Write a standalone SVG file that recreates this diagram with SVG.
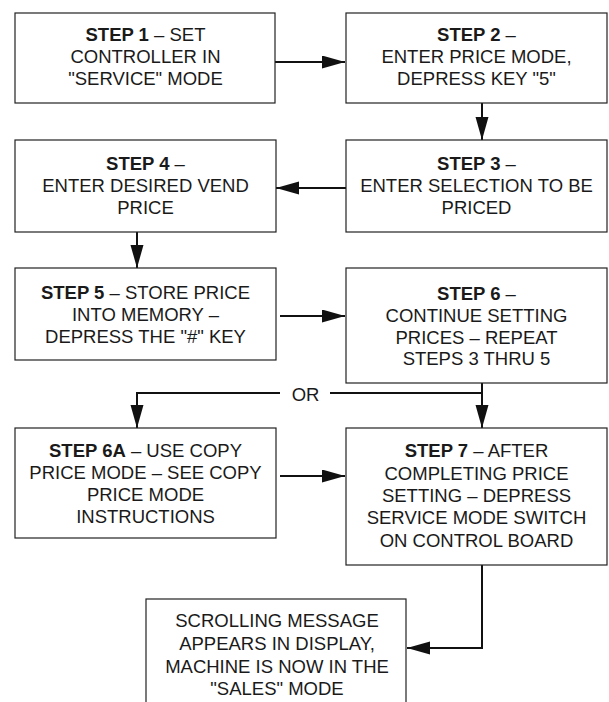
<svg xmlns="http://www.w3.org/2000/svg" width="609" height="702" viewBox="0 0 609 702">
<defs>
<marker id="ah" markerUnits="userSpaceOnUse" markerWidth="25" markerHeight="15" refX="23" refY="6.5" orient="auto">
<path d="M0,0 L23,6.5 L0,13 Z" fill="#111"/>
</marker>
<style>
.box{fill:#fff;stroke:#222;stroke-width:1.2}
.t{font-family:"Liberation Sans",Arial,sans-serif;font-size:18.5px;fill:#1a1a1a;text-anchor:middle}
.b{font-weight:bold}
.c{fill:none;stroke:#111;stroke-width:2;marker-end:url(#ah)}
.cl{fill:none;stroke:#111;stroke-width:2}
</style>
</defs>
<rect width="609" height="702" fill="#fff"/>
<g id="connectors">
<path class="c" d="M275,62 H345"/>
<path class="c" d="M482,103 V140"/>
<path class="c" d="M346,188 H276"/>
<path class="c" d="M137,232 V268"/>
<path class="c" d="M280,316 H345"/>
<path class="c" d="M482,383 V428"/>
<path class="c" d="M280,393 H137 V428"/>
<path class="cl" d="M330,393 H482"/>
<path class="c" d="M280,476 H345"/>
<path class="c" d="M482,565 V648 H407"/>
<text class="t" x="305.5" y="400.5">OR</text>
</g>
<g id="step1">
<rect class="box" x="15" y="13" width="260" height="90"/>
<text class="t" x="145.5" y="41"><tspan class="b">STEP 1</tspan> – SET</text>
<text class="t" x="145.5" y="63">CONTROLLER IN</text>
<text class="t" x="145.5" y="85">"SERVICE" MODE</text>
</g>
<g id="step2">
<rect class="box" x="346" y="13" width="261" height="90"/>
<text class="t" x="476.5" y="41"><tspan class="b">STEP 2</tspan> –</text>
<text class="t" x="476.5" y="63">ENTER PRICE MODE,</text>
<text class="t" x="476.5" y="85">DEPRESS KEY "5"</text>
</g>
<g id="step3">
<rect class="box" x="346" y="140" width="261" height="92"/>
<text class="t" x="476.5" y="170"><tspan class="b">STEP 3</tspan> –</text>
<text class="t" x="476.5" y="192">ENTER SELECTION TO BE</text>
<text class="t" x="476.5" y="214">PRICED</text>
</g>
<g id="step4">
<rect class="box" x="15" y="140" width="261" height="92"/>
<text class="t" x="145.5" y="170"><tspan class="b">STEP 4</tspan> –</text>
<text class="t" x="145.5" y="192">ENTER DESIRED VEND</text>
<text class="t" x="145.5" y="214">PRICE</text>
</g>
<g id="step5">
<rect class="box" x="15" y="268" width="261" height="92"/>
<text class="t" x="145.5" y="299"><tspan class="b">STEP 5</tspan> – STORE PRICE</text>
<text class="t" x="145.5" y="321">INTO MEMORY –</text>
<text class="t" x="145.5" y="343">DEPRESS THE "#" KEY</text>
</g>
<g id="step6">
<rect class="box" x="346" y="268" width="261" height="115"/>
<text class="t" x="476.5" y="300"><tspan class="b">STEP 6</tspan> –</text>
<text class="t" x="476.5" y="322">CONTINUE SETTING</text>
<text class="t" x="476.5" y="343.5">PRICES – REPEAT</text>
<text class="t" x="476.5" y="365">STEPS 3 THRU 5</text>
</g>
<g id="step6a">
<rect class="box" x="15" y="428" width="261" height="110"/>
<text class="t" x="145.5" y="457"><tspan class="b">STEP 6A</tspan> – USE COPY</text>
<text class="t" x="145.5" y="479">PRICE MODE – SEE COPY</text>
<text class="t" x="145.5" y="501">PRICE MODE</text>
<text class="t" x="145.5" y="523">INSTRUCTIONS</text>
</g>
<g id="step7">
<rect class="box" x="346" y="428" width="261" height="137"/>
<text class="t" x="476.5" y="457"><tspan class="b">STEP 7</tspan> – AFTER</text>
<text class="t" x="476.5" y="479.5">COMPLETING PRICE</text>
<text class="t" x="476.5" y="502">SETTING – DEPRESS</text>
<text class="t" x="476.5" y="524">SERVICE MODE SWITCH</text>
<text class="t" x="476.5" y="546.5">ON CONTROL BOARD</text>
</g>
<g id="final">
<rect class="box" x="146" y="599" width="260" height="120"/>
<text class="t" x="277" y="627">SCROLLING MESSAGE</text>
<text class="t" x="277" y="650">APPEARS IN DISPLAY,</text>
<text class="t" x="277" y="672.5">MACHINE IS NOW IN THE</text>
<text class="t" x="277" y="695">"SALES" MODE</text>
</g>
</svg>
